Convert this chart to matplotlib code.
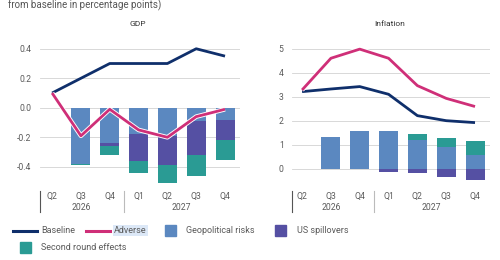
import matplotlib
matplotlib.use("Agg")
import matplotlib.pyplot as plt
import matplotlib.patheffects as pe
from matplotlib.lines import Line2D
from matplotlib.patches import Rectangle
import matplotlib.transforms as mtransforms
import numpy as np

plt.rcParams['font.family'] = ['Roboto', 'DejaVu Sans']

# Data
quarters = ["Q2", "Q3", "Q4", "Q1", "Q2", "Q3", "Q4"]
years = ["2026", "2027"]
year_pos = [1, 4.5]

gdp_baseline = [0.10, 0.20, 0.30, 0.30, 0.30, 0.40, 0.35]
gdp_adverse = [0.10, -0.19, -0.01, -0.15, -0.20, -0.06, -0.01]
gdp_geo = [0.0, -0.38, -0.24, -0.18, -0.19, -0.09, -0.08]
gdp_us = [0.0, 0.0, -0.02, -0.18, -0.20, -0.23, -0.14]
gdp_second = [0.0, -0.01, -0.06, -0.085, -0.12, -0.14, -0.135]

inf_baseline = [3.22, 3.33, 3.43, 3.11, 2.22, 2.01, 1.93]
inf_adverse = [3.29, 4.61, 4.99, 4.61, 3.47, 2.94, 2.60]
inf_geo = [0.0, 1.31, 1.58, 1.60, 1.20, 0.90, 0.57]
inf_second = [0.0, 0.0, 0.0, 0.0, 0.24, 0.38, 0.60]
inf_us = [0.0, 0.0, -0.02, -0.11, -0.18, -0.32, -0.47]

# Colours
c_base = "#0f2f6b"
c_adv = "#cf2f78"
c_geo = "#5b88c0"
c_us = "#5550a3"
c_sec = "#2a9b94"
c_grid = "#d2d2d2"
c_text = "#5a5a5a"

W, H = 500, 260
fig = plt.figure(figsize=(5, 2.6), dpi=100)


def fx(px):
    return px / W


def fy(py):
    return 1 - py / H


def panel(rect_px, title, base, adv, geo, us, sec, ylim, yticks, yfmt, xlim, title_x):
    l, t, r, b = rect_px
    ax = fig.add_axes([fx(l), fy(b), fx(r - l), (b - t) / H])
    x = np.arange(len(quarters))
    geo = np.array(geo)
    us = np.array(us)
    sec = np.array(sec)
    w = 0.66
    # positive parts stack upward, negative parts stack downward
    pos_bottom = np.zeros(len(x))
    neg_bottom = np.zeros(len(x))
    for vals, col in [(geo, c_geo), (us, c_us), (sec, c_sec)]:
        p = np.where(vals > 0, vals, 0)
        n = np.where(vals < 0, vals, 0)
        ax.bar(x, p, w, bottom=pos_bottom, color=col, zorder=2)
        ax.bar(x, n, w, bottom=neg_bottom, color=col, zorder=2)
        pos_bottom += p
        neg_bottom += n
    ax.plot(x, base, color=c_base, lw=2.0, zorder=4, solid_capstyle='butt')
    ax.plot(x, adv, color=c_adv, lw=2.0, zorder=5, solid_capstyle='butt',
            path_effects=[pe.Stroke(linewidth=3.3, foreground='white'), pe.Normal()])
    ax.set_ylim(*ylim)
    ax.set_xlim(*xlim)
    ax.set_yticks(yticks)
    ax.set_yticklabels([yfmt.format(v) for v in yticks])
    ax.grid(axis='y', color=c_grid, lw=0.6, zorder=0)
    ax.set_axisbelow(True)
    for s in ax.spines.values():
        s.set_visible(False)
    ax.tick_params(axis='y', length=0, labelsize=6.2, labelcolor=c_text, pad=6)
    ax.set_xticks([])
    # quarter and year labels below
    tr = mtransforms.blended_transform_factory(ax.transData, fig.transFigure)
    for i, q in enumerate(quarters):
        ax.text(i, fy(196), q, transform=tr, ha='center', va='center',
                fontsize=6.2, color=c_text)
    for yp, yl in zip(year_pos, years):
        ax.text(yp, fy(207.5), yl, transform=tr, ha='center', va='center',
                fontsize=6.2, color=c_text)
    ax.add_line(Line2D([xlim[0], xlim[0]], [fy(191), fy(212)], transform=tr,
                       color="#555555", lw=0.8, clip_on=False))
    ax.add_line(Line2D([2.5, 2.5], [fy(191), fy(212)], transform=tr,
                       color="#bbbbbb", lw=0.8, clip_on=False))
    fig.text(fx(title_x), fy(24), title, ha='center', va='center',
             fontsize=6, color="#333333")
    return ax


panel((40, 34, 240, 186), "GDP", gdp_baseline, gdp_adverse, gdp_geo, gdp_us,
      gdp_second, (-0.53, 0.5), [-0.4, -0.2, 0.0, 0.2, 0.4], "{:.1f}",
      (-0.42, 6.52), 138)
panel((292, 34, 490, 186), "Inflation", inf_baseline, inf_adverse, inf_geo,
      inf_us, inf_second, (-0.71, 5.62), [0, 1, 2, 3, 4, 5], "{:d}",
      (-0.35, 6.52), 390)

# cropped subtitle at top
fig.text(fx(8), fy(5), "from baseline in percentage points)", ha='left',
         va='center', fontsize=7, color="#555555")

# legend
def leg_line(x0, x1, y, col, label, tx):
    fig.add_artist(Line2D([fx(x0), fx(x1)], [fy(y), fy(y)], color=col, lw=2.2,
                          transform=fig.transFigure))
    return fig.text(fx(tx), fy(y), label, ha='left', va='center', fontsize=6.5,
                    color=c_text)


def leg_box(x0, y, col, label, tx):
    fig.add_artist(Rectangle((fx(x0), fy(y + 5)), fx(10.5), 10.5 / H,
                             color=col, transform=fig.transFigure))
    fig.text(fx(tx), fy(y), label, ha='left', va='center', fontsize=6.5,
             color=c_text)


leg_line(13, 37, 230.5, c_base, "Baseline", 41)
t = leg_line(86, 110, 230.5, c_adv, "Adverse", 114)
t.set_bbox(dict(facecolor="#dce8f7", edgecolor='none', pad=1.0))
leg_box(165, 230.5, c_geo, "Geopolitical risks", 186)
leg_box(275, 230.5, c_us, "US spillovers", 297)
leg_box(20, 247.5, c_sec, "Second round effects", 41)

fig.savefig("out.png", dpi=100)
